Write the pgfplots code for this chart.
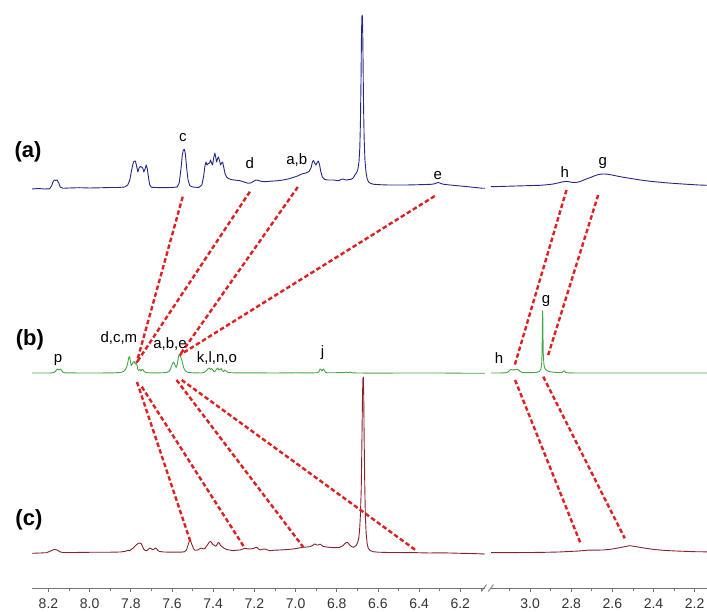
\documentclass[border=0pt]{standalone}
\usepackage{fontspec}
\setmainfont{Liberation Sans}
\usepackage{pgfplots}
\pgfplotsset{compat=1.18}
\usepackage{pgfplotstable}

\definecolor{specA}{RGB}{35,40,135}
\definecolor{specB}{RGB}{70,165,70}
\definecolor{specC}{RGB}{135,35,45}
\definecolor{corr}{RGB}{222,32,32}
\definecolor{axisgray}{RGB}{115,115,115}

% 1H NMR spectra: chemical shift (ppm) and intensity above each trace's baseline
\pgfplotstableread{
ppm I
8.28 -1
8.25 -0.5
8.22 -1
8.195 -0.8
8.185 2
8.178 6
8.172 8
8.165 7.5
8.158 8
8.150 5
8.143 1
8.13 -0.3
8.10 0
8.05 0.3
8.00 0
7.95 0.2
7.90 0.5
7.86 0.5
7.83 1
7.815 3
7.805 8
7.797 17
7.790 24
7.785 26.5
7.778 27
7.772 22
7.766 16
7.760 20
7.754 21.5
7.748 21
7.742 20
7.737 16
7.731 19
7.725 23
7.720 19
7.714 10
7.708 3
7.700 0.7
7.68 0.5
7.65 0.3
7.60 0.5
7.575 1
7.565 5
7.556 20
7.550 33
7.545 38
7.540 38.7
7.535 34
7.529 20
7.522 8
7.514 2.5
7.50 1
7.47 0.5
7.455 3
7.447 11
7.440 22
7.435 26
7.430 23
7.424 24.5
7.418 25
7.413 28
7.408 25
7.403 23
7.398 30
7.392 35
7.387 30
7.383 26
7.378 30
7.374 31
7.369 27
7.364 23
7.359 25
7.354 26
7.348 20
7.343 14.7
7.335 11
7.327 9.5
7.31 8.3
7.29 7.8
7.27 7.3
7.25 6
7.23 4.7
7.215 5.2
7.205 6.5
7.195 7.8
7.189 8
7.18 7.5
7.17 6.8
7.15 6.3
7.12 6.8
7.09 7.2
7.06 8
7.03 9.3
7.01 10.7
6.99 12
6.97 14
6.95 15
6.935 16.5
6.925 20
6.918 26
6.913 27.5
6.907 25
6.901 23
6.896 25
6.890 27
6.884 24
6.878 17
6.870 11
6.860 8.7
6.845 8
6.83 8
6.815 8
6.80 7.5
6.79 7.3
6.78 8.5
6.77 9
6.76 8.2
6.75 8
6.74 8.5
6.73 8.7
6.72 10
6.712 13
6.705 15
6.698 18
6.692 26
6.688 40
6.685 65
6.682 110
6.680 150
6.678 171
6.676 173
6.674 160
6.672 125
6.670 85
6.667 50
6.663 28
6.658 16
6.652 9
6.645 6
6.635 4.5
6.62 3.7
6.59 3.3
6.55 3
6.50 3
6.46 3
6.42 3.2
6.38 3.4
6.34 3.7
6.325 4.2
6.315 5
6.308 5.5
6.300 5
6.290 4.2
6.28 3.7
6.25 3
6.20 2
6.15 1
6.12 0.3
6.09 -0.3
6.08 -0.3
}\aLeft

\pgfplotstableread{
ppm I
3.19 1.3
3.15 1.5
3.10 1.8
3.05 2.1
3.00 2.4
2.95 2.7
2.92 3.2
2.89 3.9
2.865 5
2.845 6
2.83 6.5
2.82 6.5
2.81 6.2
2.795 5.6
2.78 5.5
2.765 6
2.75 7
2.735 8.3
2.72 9.5
2.70 11
2.685 12.3
2.67 13.3
2.655 13.9
2.64 14
2.625 13.8
2.61 13.3
2.59 12.5
2.57 11.6
2.54 10.5
2.51 9.5
2.48 8.5
2.45 7.6
2.42 6.8
2.38 6
2.34 5.2
2.30 4.6
2.26 4
2.22 3.5
2.18 3
2.14 2.7
}\aRight

\pgfplotstableread{
ppm I
8.28 0
8.22 0
8.19 0
8.172 0.5
8.165 2
8.160 3.5
8.155 4
8.150 3
8.146 3.5
8.141 4
8.136 2.5
8.130 0.8
8.12 0.2
8.05 0
7.95 0
7.88 0.2
7.85 0.5
7.835 1.5
7.826 3.5
7.820 6
7.815 10
7.810 15.5
7.806 16.5
7.802 12
7.798 7.5
7.794 8.5
7.789 11
7.784 11.5
7.779 9
7.774 10
7.770 8
7.766 3.5
7.761 2.5
7.756 3.5
7.751 2
7.746 3.5
7.741 3.5
7.736 1.5
7.725 0.4
7.70 0.1
7.65 0.2
7.625 0.5
7.615 1.5
7.606 4.5
7.598 9.5
7.592 11
7.586 8
7.580 5.5
7.574 9
7.568 17
7.564 18.7
7.559 16.5
7.554 14.5
7.549 10
7.544 5.5
7.538 3
7.530 1.2
7.52 0.5
7.50 0.2
7.46 0
7.445 0.5
7.432 2.5
7.424 4.5
7.419 5
7.414 3.5
7.408 4.5
7.402 3
7.396 1.5
7.389 2
7.383 4
7.378 5
7.373 3
7.367 3.5
7.361 4.5
7.355 2
7.349 1.5
7.344 3
7.338 2
7.330 0.7
7.31 0.2
7.20 0.1
7.10 0
7.00 0.2
6.92 0.1
6.895 0.3
6.887 1
6.881 4
6.876 3.5
6.871 2
6.866 4
6.861 3
6.855 0.8
6.845 0.2
6.80 0.3
6.77 0.3
6.755 0.8
6.745 0.4
6.735 0.9
6.725 0.2
6.70 0
6.60 -0.2
6.50 0
6.40 0
6.30 0
6.20 -0.2
6.08 -0.3
}\bLeft

\pgfplotstableread{
ppm I
3.19 0
3.15 0
3.12 0.2
3.108 0.8
3.100 2.5
3.093 3.7
3.086 3.2
3.079 3
3.072 3.5
3.065 3.8
3.058 3.3
3.050 2
3.042 0.8
3.03 0.3
3.00 0.3
2.97 0.6
2.955 1.5
2.948 3.5
2.944 8
2.942 18
2.9405 40
2.9395 58
2.9390 62.3
2.9383 58
2.9375 40
2.936 20
2.933 9
2.929 5
2.922 3
2.91 1.5
2.89 0.8
2.86 0.4
2.845 0.5
2.838 2
2.833 2.2
2.828 0.7
2.82 0.2
2.78 0
2.70 0
2.60 0
2.50 0
2.40 0
2.30 0
2.20 0
2.14 0
}\bRight

\pgfplotstableread{
ppm I
8.28 -0.3
8.24 0
8.21 0.3
8.195 1.5
8.185 2.5
8.175 3.3
8.165 3.3
8.155 2.8
8.145 1.2
8.13 0.5
8.08 0.5
8.00 0.7
7.92 0.7
7.85 1
7.825 1.8
7.813 2.7
7.805 2.3
7.796 4
7.788 5
7.780 6.7
7.772 8.5
7.764 9.5
7.757 10
7.750 9.5
7.744 7
7.738 4
7.730 2.5
7.723 2.3
7.716 3.5
7.708 5
7.700 4.2
7.694 3.3
7.688 3.7
7.682 5
7.676 4.5
7.668 2.5
7.660 1.5
7.64 1
7.60 0.8
7.56 0.8
7.54 1.2
7.530 3
7.524 6.7
7.518 10.5
7.513 13.3
7.508 11
7.502 7.7
7.496 4.5
7.489 2.7
7.480 2.8
7.472 3.3
7.463 4.5
7.456 5
7.448 4
7.440 4.5
7.432 7
7.424 9.3
7.418 11
7.413 11.7
7.407 10
7.400 8.3
7.393 7.5
7.387 6.7
7.381 8.5
7.375 10.7
7.370 10
7.364 7.5
7.358 6.5
7.352 5.5
7.345 4.5
7.335 3.5
7.320 3
7.303 2.3
7.285 2.8
7.270 3
7.258 3.8
7.246 4.7
7.234 4.2
7.222 4
7.205 4.5
7.195 5.5
7.189 5.7
7.180 4
7.173 3
7.160 3.8
7.149 4
7.135 3
7.125 2.3
7.10 2.8
7.076 3
7.04 3.5
7.012 4
6.99 4.7
6.975 5.3
6.963 5.7
6.945 6
6.930 6.3
6.918 7.5
6.910 8.7
6.904 9
6.897 8
6.890 8
6.884 8.7
6.879 8.7
6.872 7.5
6.865 6.5
6.858 6.3
6.840 5.8
6.817 5.3
6.800 5.5
6.785 5.7
6.772 7
6.762 9
6.755 10.3
6.749 10.7
6.743 9.5
6.737 8
6.728 6.5
6.720 5.7
6.712 6.5
6.704 8
6.698 11
6.693 15
6.689 23
6.685 38
6.681 64
6.678 107
6.675 155
6.673 174
6.671 176
6.669 160
6.667 117
6.664 69
6.661 37
6.657 19
6.652 9
6.647 4.7
6.638 2.5
6.623 1.3
6.60 0.8
6.55 0.5
6.50 0.5
6.45 0.3
6.41 0.3
6.35 0
6.30 0.2
6.25 0
6.20 -0.3
6.15 -0.5
6.08 -1
}\cLeft

\pgfplotstableread{
ppm I
3.19 0.3
3.10 0.4
3.00 0.5
2.95 0.6
2.90 0.8
2.86 1
2.83 1.3
2.80 1.6
2.77 1.9
2.74 2.4
2.72 2.8
2.70 2.8
2.67 2.9
2.645 3
2.62 3.5
2.60 4
2.58 4.7
2.56 5.5
2.54 6.3
2.525 7
2.515 7.3
2.505 7
2.49 6.5
2.47 5.8
2.45 5.1
2.43 4.5
2.40 3.6
2.37 3
2.34 2.5
2.32 2.3
2.28 1.9
2.24 1.6
2.20 1.3
2.16 1.2
2.14 1.1
}\cRight

\pgfplotsset{
  nmr/.style={
    scale only axis, height=588pt, ymin=0, ymax=588,
    x dir=reverse,
    axis x line*=bottom, axis y line=none, ytick=\empty,
    x axis line style={-, draw=axisgray, line width=0.8pt},
    tick align=outside, major tick length=4pt, minor tick length=3pt,
    tick style={draw=axisgray, line width=0.7pt},
    xticklabel style={font=\fontsize{14}{16}\selectfont, text=black!80, yshift=-3pt,
      /pgf/number format/.cd, fixed, fixed zerofill, precision=1},
    /pgf/number format/assume math mode=true,
    clip=false,
  },
}
\tikzset{
  trace/.style={line width=0.9pt, line join=round},
  corrline/.style={draw=corr, line width=2.4pt, dash pattern=on 4.5pt off 2.6pt},
  peak/.style={font=\fontsize{15}{17}\selectfont},
  panel/.style={font=\bfseries\fontsize{22}{24}\selectfont},
}

\begin{document}
\begin{tikzpicture}
\path[use as bounding box] (0,0) rectangle (707pt,612pt);

% aromatic region
\begin{axis}[nmr, at={(32pt,24pt)}, anchor=south west, width=453pt,
  xmin=6.08, xmax=8.28,
  xtick={6.2,6.4,6.6,6.8,7.0,7.2,7.4,7.6,7.8,8.0,8.2},
  minor xtick={6.1,6.3,6.5,6.7,6.9,7.1,7.3,7.5,7.7,7.9,8.1}]
  \addplot[trace, specA] table[x=ppm, y expr=\thisrow{I}+400] {\aLeft};
  \addplot[trace, specB] table[x=ppm, y expr=\thisrow{I}+215] {\bLeft};
  \addplot[trace, specC] table[x=ppm, y expr=\thisrow{I}+35] {\cLeft};
  % peak correlations (a) -> (b)
  \addplot[corrline] coordinates {(7.548,391.3) (7.772,225.3)};
  \addplot[corrline] coordinates {(7.222,396.3) (7.772,225.3)};
  \addplot[corrline] coordinates {(6.989,401) (7.562,233)};
  \addplot[corrline] coordinates {(6.324,392) (7.562,233)};
  % peak correlations (b) -> (c)
  \addplot[corrline] coordinates {(7.770,206) (7.510,46)};
  \addplot[corrline] coordinates {(7.747,201.3) (7.246,39.7)};
  \addplot[corrline] coordinates {(7.578,208) (6.963,41)};
  \addplot[corrline] coordinates {(7.553,208) (6.413,37.3)};
  % panel letters
  \node[panel] at (axis cs:8.299,436) {(a)};
  \node[panel] at (axis cs:8.290,248) {(b)};
  \node[panel] at (axis cs:8.295,68) {(c)};
  % assignments
  \node[peak] at (axis cs:7.547,450) {c};
  \node[peak] at (axis cs:7.222,425) {d};
  \node[peak] at (axis cs:6.994,428) {a,b};
  \node[peak] at (axis cs:6.309,412) {e};
  \node[peak] at (axis cs:8.154,228) {p};
  \node[peak] at (axis cs:7.858,250) {d,c,m};
  \node[peak] at (axis cs:7.610,244) {a,b,e};
  \node[peak] at (axis cs:7.382,230) {k,l,n,o};
  \node[peak] at (axis cs:6.869,235) {j};
  % axis break
  \draw[axisgray, line width=0.8pt] (axis cs:6.097,-3.5) -- (axis cs:6.073,3.5);
\end{axis}

% aliphatic region
\begin{axis}[nmr, at={(491pt,24pt)}, anchor=south west, width=216pt,
  xmin=2.14, xmax=3.19,
  xtick={2.2,2.4,2.6,2.8,3.0},
  minor xtick={2.3,2.5,2.7,2.9,3.1}]
  \addplot[trace, specA] table[x=ppm, y expr=\thisrow{I}+400] {\aRight};
  \addplot[trace, specB] table[x=ppm, y expr=\thisrow{I}+215] {\bRight};
  \addplot[trace, specC] table[x=ppm, y expr=\thisrow{I}+35] {\cRight};
  \addplot[corrline] coordinates {(2.823,398) (3.077,221.3)};
  \addplot[corrline] coordinates {(2.669,393) (2.912,233)};
  \addplot[corrline] coordinates {(3.073,208) (2.753,43.7)};
  \addplot[corrline] coordinates {(2.936,211.3) (2.540,49.7)};
  \node[peak] at (axis cs:2.831,416) {h};
  \node[peak] at (axis cs:2.646,425) {g};
  \node[peak] at (axis cs:3.151,230) {h};
  \node[peak] at (axis cs:2.923,287) {g};
  \draw[axisgray, line width=0.8pt] (axis cs:3.203,-3.5) -- (axis cs:3.178,3.5);
\end{axis}
\end{tikzpicture}
\end{document}
